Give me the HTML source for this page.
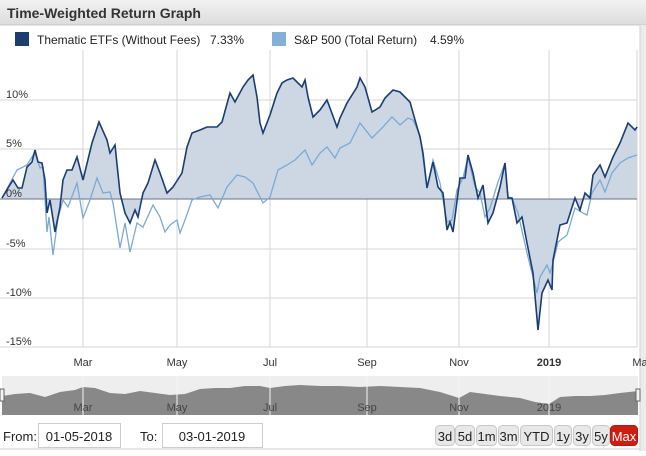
<!DOCTYPE html>
<html><head><meta charset="utf-8"><style>
body{margin:0;width:646px;height:451px;overflow:hidden;background:#fff;font-family:"Liberation Sans",sans-serif;}
</style></head><body>
<svg width="646" height="451" xmlns="http://www.w3.org/2000/svg" font-family="Liberation Sans, sans-serif">
<defs><linearGradient id="hg" x1="0" y1="0" x2="0" y2="1"><stop offset="0" stop-color="#f2f2f2"/><stop offset="1" stop-color="#dcdcdc"/></linearGradient></defs>
<rect x="0" y="0" width="646" height="451" fill="#fff"/>
<rect x="0" y="0" width="646" height="25" fill="url(#hg)"/>
<line x1="0" y1="25" x2="646" y2="25" stroke="#c8c8c8"/>
<text x="7" y="18" font-size="14" font-weight="bold" fill="#333">Time-Weighted Return Graph</text>
<rect x="640" y="25" width="6" height="426" fill="#ececec"/>
<line x1="640" y1="25" x2="640" y2="451" stroke="#d0d0d0"/>
<rect x="15" y="32" width="14" height="14" fill="#1a3d72"/>
<text x="37" y="44" font-size="12" fill="#222">Thematic ETFs (Without Fees)</text>
<text x="210" y="44" font-size="12" fill="#222">7.33%</text>
<rect x="272" y="32" width="14" height="14" fill="#82b0d8"/>
<text x="294" y="44" font-size="12" fill="#222">S&amp;P 500 (Total Return)</text>
<text x="430" y="44" font-size="12" fill="#222">4.59%</text>
<g stroke="#d4d4d4" stroke-width="1">
<line x1="83" y1="50" x2="83" y2="347"/><line x1="177" y1="50" x2="177" y2="347"/><line x1="270" y1="50" x2="270" y2="347"/><line x1="367" y1="50" x2="367" y2="347"/><line x1="459" y1="50" x2="459" y2="347"/><line x1="549" y1="50" x2="549" y2="347"/>
<line x1="0" y1="100" x2="637" y2="100"/><line x1="0" y1="149" x2="637" y2="149"/><line x1="0" y1="249" x2="637" y2="249"/><line x1="0" y1="298" x2="637" y2="298"/><line x1="0" y1="347" x2="637" y2="347"/>
<line x1="637" y1="50" x2="637" y2="347"/>
</g>
<polygon fill="#cdd7e4" points="2,199 2,198 8,188 13,180 18,188 22,188 27,167 32,162 35,150 38,162 42,163 45,180 47,213 50,200 55,232 60,207 63,180 67,170 72,170 77,157 83,180 92,143 99,122 107,140 110,153 115,145 120,193 125,213 130,223 135,210 138,217 143,193 148,183 155,160 160,173 167,193 173,187 182,173 187,147 192,133 200,130 207,127 217,127 222,122 230,93 235,102 243,87 248,80 253,75 257,97 260,123 263,133 270,115 277,93 282,83 287,80 293,78 302,87 305,80 308,97 313,117 320,110 327,100 337,127 340,118 347,103 357,87 360,78 365,87 372,112 380,107 385,98 393,90 400,92 410,102 417,127 420,137 423,153 427,188 433,162 438,187 443,193 447,230 450,222 453,232 460,178 465,178 468,155 473,173 478,198 483,185 488,223 493,213 500,187 505,163 508,198 512,198 517,223 522,217 527,243 533,273 538,330 542,293 548,280 552,290 553,260 560,225 567,223 575,198 580,210 585,193 590,198 593,175 600,165 605,177 613,157 620,143 628,123 635,130 637,127 637,199"/>
<line x1="0" y1="199" x2="637" y2="199" stroke="#6a7280" stroke-width="1"/>
<polyline fill="none" stroke="#7aaad4" stroke-width="1.3" points="2,198 17,170 27,165 35,152 40,168 43,167 47,232 49,217 53,255 58,218 63,200 68,207 77,183 83,218 90,200 97,178 103,193 110,192 113,203 120,248 125,223 130,252 137,223 143,227 153,205 160,217 165,232 170,225 177,220 180,233 185,220 192,200 200,197 210,195 218,208 227,187 237,175 245,177 253,183 260,197 263,203 270,197 278,170 287,165 295,160 305,150 312,165 320,153 327,147 335,158 340,148 350,143 360,123 372,138 382,128 392,117 400,125 408,118 413,120 420,135 427,188 433,160 440,183 447,222 452,220 457,190 463,178 468,157 475,187 480,193 485,217 490,208 498,182 505,163 508,197 512,198 518,213 527,253 537,293 540,277 547,265 550,273 553,263 558,242 567,235 575,208 583,213 587,215 592,193 600,180 605,192 612,173 620,163 628,158 637,155"/>
<polyline fill="none" stroke="#1a3d72" stroke-width="1.6" points="2,198 8,188 13,180 18,188 22,188 27,167 32,162 35,150 38,162 42,163 45,180 47,213 50,200 55,232 60,207 63,180 67,170 72,170 77,157 83,180 92,143 99,122 107,140 110,153 115,145 120,193 125,213 130,223 135,210 138,217 143,193 148,183 155,160 160,173 167,193 173,187 182,173 187,147 192,133 200,130 207,127 217,127 222,122 230,93 235,102 243,87 248,80 253,75 257,97 260,123 263,133 270,115 277,93 282,83 287,80 293,78 302,87 305,80 308,97 313,117 320,110 327,100 337,127 340,118 347,103 357,87 360,78 365,87 372,112 380,107 385,98 393,90 400,92 410,102 417,127 420,137 423,153 427,188 433,162 438,187 443,193 447,230 450,222 453,232 460,178 465,178 468,155 473,173 478,198 483,185 488,223 493,213 500,187 505,163 508,198 512,198 517,223 522,217 527,243 533,273 538,330 542,293 548,280 552,290 553,260 560,225 567,223 575,198 580,210 585,193 590,198 593,175 600,165 605,177 613,157 620,143 628,123 635,130 637,127"/>
<g font-size="11" fill="#333">
<text x="6" y="98">10%</text><text x="6" y="147">5%</text><text x="6" y="197">0%</text><text x="6" y="247">-5%</text><text x="6" y="296">-10%</text><text x="6" y="345">-15%</text>
</g>
<g font-size="11" fill="#333" text-anchor="middle">
<text x="83" y="366">Mar</text><text x="177" y="366">May</text><text x="270" y="366">Jul</text><text x="367" y="366">Sep</text><text x="459" y="366">Nov</text><text x="549" y="366" font-weight="bold">2019</text><text x="640" y="366">Ma</text>
</g>
<rect x="2" y="376" width="636" height="39" fill="#eeeeee"/>
<polygon fill="#888" points="2,415 2,396 15,394 30,393 45,397 60,392 75,390 83,387 95,388 110,393 125,394 140,391 155,393 170,395 185,394 200,389 215,388 230,388 245,386 260,386 270,388 285,386 300,385 320,386 340,386 360,387 380,386 400,387 420,388 440,392 459,398 470,392 485,394 500,396 520,398 535,402 549,404 560,397 575,396 590,396 605,395 620,393 638,391 638,415"/>
<g stroke="#f4f4f4" stroke-width="1"><line x1="83" y1="376" x2="83" y2="415"/><line x1="177" y1="376" x2="177" y2="415"/><line x1="270" y1="376" x2="270" y2="415"/><line x1="367" y1="376" x2="367" y2="415"/><line x1="459" y1="376" x2="459" y2="415"/><line x1="549" y1="376" x2="549" y2="415"/></g>
<g font-size="11" fill="#444" text-anchor="middle">
<text x="83" y="411">Mar</text><text x="177" y="411">May</text><text x="270" y="411">Jul</text><text x="367" y="411">Sep</text><text x="459" y="411">Nov</text><text x="549" y="411">2019</text>
</g>
<rect x="0" y="389" width="4" height="12" fill="#f4f4f4" stroke="#666"/>
<rect x="636" y="389" width="4" height="12" fill="#f4f4f4" stroke="#666"/>
<line x1="0" y1="449" x2="640" y2="449" stroke="#ccc"/>
<text x="3" y="441" font-size="13" fill="#222">From:</text>
<rect x="38.5" y="423.5" width="82" height="24" fill="#fff" stroke="#ccc"/>
<text x="79" y="441" font-size="13" fill="#222" text-anchor="middle">01-05-2018</text>
<text x="140" y="441" font-size="13" fill="#222">To:</text>
<rect x="162.5" y="423.5" width="100" height="24" fill="#fff" stroke="#ccc"/>
<text x="212" y="441" font-size="13" fill="#222" text-anchor="middle">03-01-2019</text>
<g font-size="13" text-anchor="middle">
<rect x="435.5" y="425.5" width="19" height="20" rx="4" fill="#e8e8e8" stroke="#c8c8c8"/><text x="445" y="441" fill="#222">3d</text>
<rect x="455.5" y="425.5" width="19" height="20" rx="4" fill="#e8e8e8" stroke="#c8c8c8"/><text x="465" y="441" fill="#222">5d</text>
<rect x="476.5" y="425.5" width="20" height="20" rx="4" fill="#e8e8e8" stroke="#c8c8c8"/><text x="486.5" y="441" fill="#222">1m</text>
<rect x="498.5" y="425.5" width="20" height="20" rx="4" fill="#e8e8e8" stroke="#c8c8c8"/><text x="508.5" y="441" fill="#222">3m</text>
<rect x="520.5" y="425.5" width="32" height="20" rx="4" fill="#e8e8e8" stroke="#c8c8c8"/><text x="536.5" y="441" fill="#222">YTD</text>
<rect x="554.5" y="425.5" width="17" height="20" rx="4" fill="#e8e8e8" stroke="#c8c8c8"/><text x="563" y="441" fill="#222">1y</text>
<rect x="573.5" y="425.5" width="17" height="20" rx="4" fill="#e8e8e8" stroke="#c8c8c8"/><text x="582" y="441" fill="#222">3y</text>
<rect x="592.5" y="425.5" width="17" height="20" rx="4" fill="#e8e8e8" stroke="#c8c8c8"/><text x="601" y="441" fill="#222">5y</text>
<rect x="610.5" y="425.5" width="27" height="20" rx="4" fill="#cc1f12" stroke="#b01a10"/><text x="624" y="441" fill="#fff">Max</text>
</g>
</svg>
</body></html>
